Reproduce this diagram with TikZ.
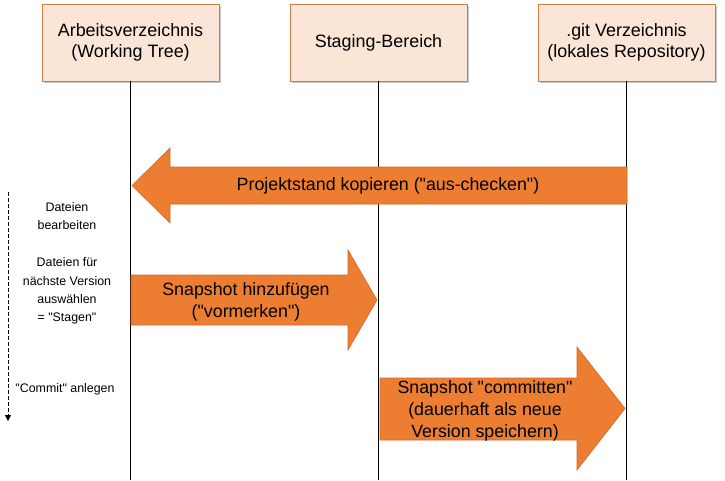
\documentclass[tikz,border=0pt]{standalone}
\usepackage{fontspec}
\setmainfont{Liberation Sans}[Ligatures=TeXOff]
\usetikzlibrary{shadows,arrows.meta}
\definecolor{boxfill}{HTML}{FBE5D6}
\definecolor{boxline}{HTML}{D07A45}
\definecolor{arrfill}{HTML}{ED7D31}
\definecolor{arrline}{HTML}{CF6A2C}
\begin{document}
\begin{tikzpicture}[x=1pt,y=-1pt,
  actor/.style={draw=boxline, fill=boxfill, line width=0.8pt, minimum width=177pt, minimum height=77pt,
    align=center, inner sep=0pt, font=\fontsize{17.9}{21.7}\selectfont,
    drop shadow={shadow xshift=2pt, shadow yshift=-2pt, opacity=0.35, fill=black!60}},
  life/.style={line width=1.4pt, black},
  block/.style={fill=arrfill, draw=arrline, line width=0.6pt},
  arrtext/.style={align=center, font=\fontsize{17.8}{21.8}\selectfont, inner sep=0pt},
  side/.style={align=center, font=\fontsize{12.4}{18.3}\selectfont, inner sep=0pt}]
\useasboundingbox (0,0) rectangle (725,480);
% actors
\node[actor] (wt) at (130.5,42.5) {Arbeitsverzeichnis\\(Working Tree)};
\node[actor] (st) at (378.5,42.5) {Staging-Bereich};
\node[actor] (git) at (626.5,42.5) {.git Verzeichnis\\(lokales Repository)};
% lifelines
\coordinate (wtend) at (130.5,480);
\coordinate (stend) at (378.5,480);
\coordinate (gitend) at (626.5,480);
\draw[life] (wt.south) -- (wtend);
\draw[life] (st.south) -- (stend);
\draw[life] (git.south) -- (gitend);
% block arrows
\draw[block] (627,167) -- (170,167) -- (170,148) -- (132,185.5) -- (170,223) -- (170,204) -- (627,204) -- cycle;
\node[arrtext] (t1) at (388,186) {Projektstand kopieren ("aus-checken")};
\draw[block] (131,275) -- (348,275) -- (348,250) -- (377,300) -- (348,350) -- (348,325) -- (131,325) -- cycle;
\node[arrtext] (t2) at (246,302) {Snapshot hinzufügen\\("vormerken")};
\draw[block] (380,378) -- (577,378) -- (577,347) -- (625,408.5) -- (577,470) -- (577,440) -- (380,440) -- cycle;
\node[arrtext] (t3) at (485,411) {Snapshot "committen"\\(dauerhaft als neue\\Version speichern)};
% side notes
\node[side] (s1) at (67,216) {Dateien\\bearbeiten};
\node[side] (s2) at (67,291) {Dateien für\\nächste Version\\auswählen\\= "Stagen"};
\node[side] (s3) at (65,389) {"Commit" anlegen};
\coordinate (tl0) at (8,192);
\coordinate (tl1) at (8,421);
\draw[line width=0.8pt, dash pattern=on 3.5pt off 2.5pt, -{Triangle[width=6pt,length=6pt]}] (tl0) -- (tl1);
\end{tikzpicture}
\end{document}
